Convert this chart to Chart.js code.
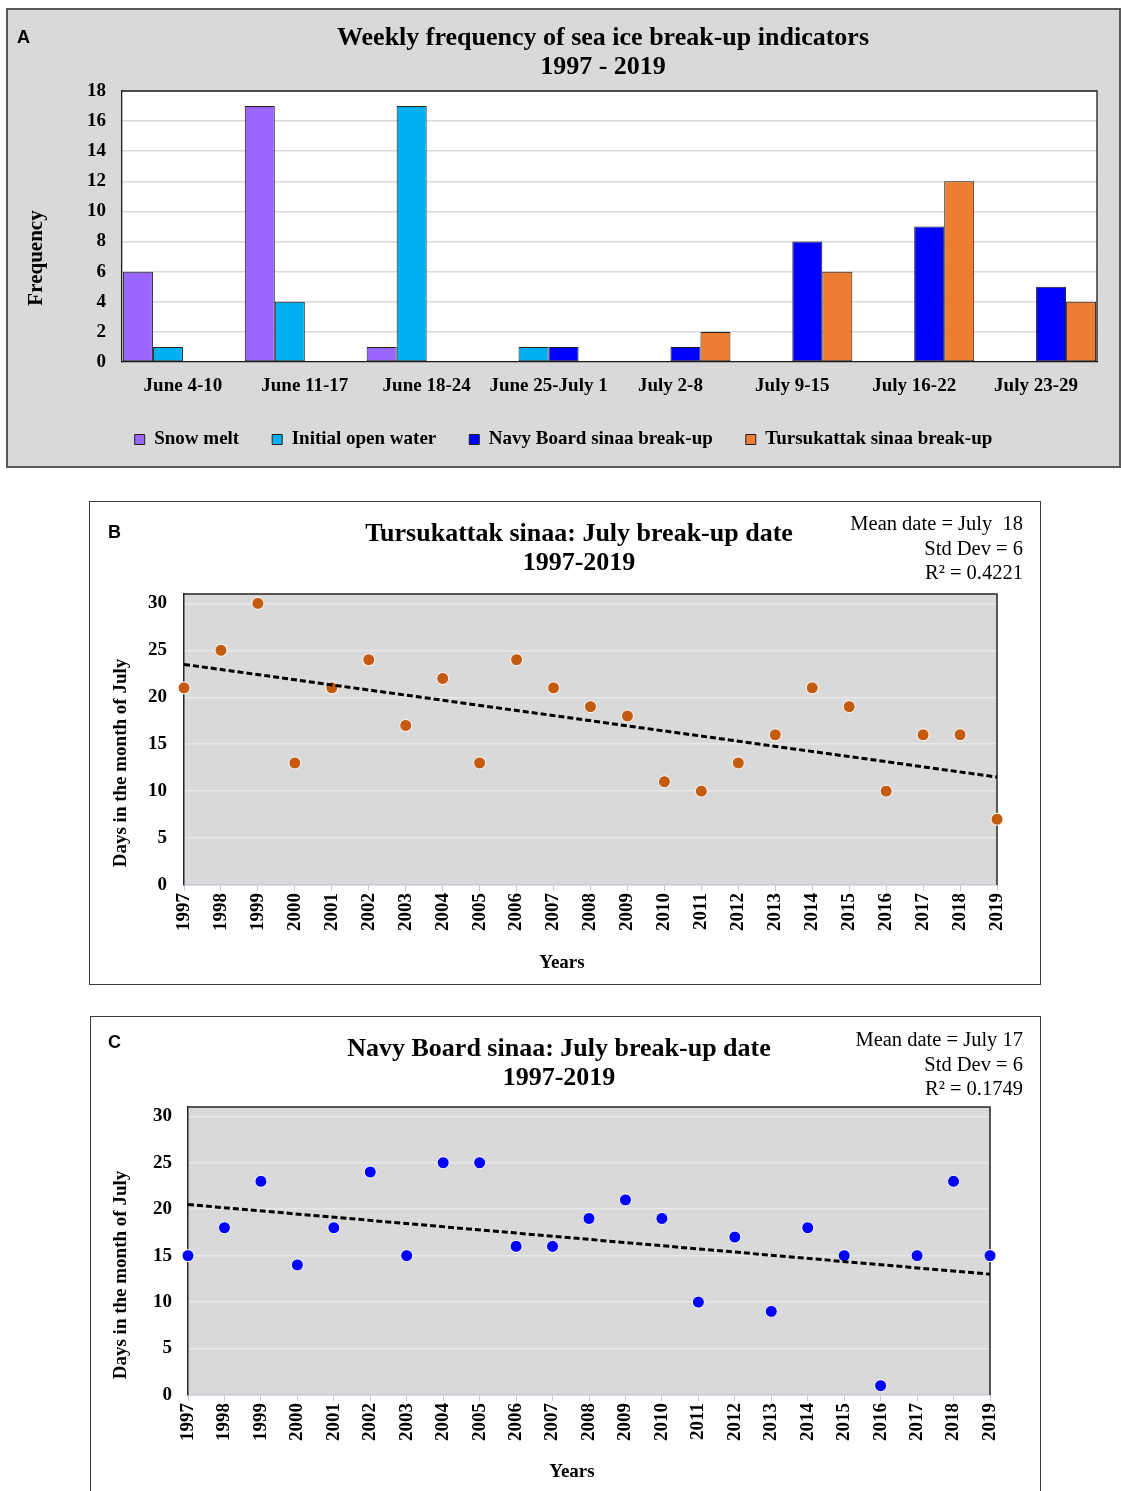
<!DOCTYPE html>
<html>
<head>
<meta charset="utf-8">
<title>Sea ice break-up indicators 1997-2019</title>
<script src="https://cdn.jsdelivr.net/npm/chart.js@4.4.1/dist/chart.umd.min.js"></script>
<style>
  html, body { margin: 0; padding: 0; background: #fff; }
  #page { position: relative; width: 1121px; height: 1491px; overflow: hidden; font-family: 'Liberation Serif', 'Times New Roman', serif; color: #000; }
  .box { position: absolute; box-sizing: border-box; }
  canvas.chart { position: absolute; left: 0; }
  .title { position: absolute; text-align: center; font-weight: bold; font-size: 26px; line-height: 29px; white-space: nowrap; }
  .stats { position: absolute; right: 98px; text-align: right; font-size: 20.5px; line-height: 24.5px; white-space: nowrap; }
  .letter { position: absolute; font-family: 'Liberation Sans', Arial, sans-serif; font-weight: bold; font-size: 18px; line-height: 20px; }
  .axt { position: absolute; font-weight: bold; font-size: 19px; line-height: 22px; white-space: nowrap; transform: translate(-50%, -50%); }
  .axt.rot { transform: translate(-50%, -50%) rotate(-90deg); }
</style>
</head>
<body>
<div id="page">
  <div class="box" style="left:6px;top:8px;width:1115px;height:460px;background:#d9d9d9;border:2px solid #595959"></div>
  <div class="box" style="left:89px;top:501px;width:952px;height:484px;background:#fff;border:1.5px solid #3a3a3a"></div>
  <div class="box" style="left:90px;top:1016px;width:951px;height:490px;background:#fff;border:1.5px solid #3a3a3a"></div>

  <canvas class="chart" id="chartA" width="1121" height="475" style="top:0"></canvas>
  <canvas class="chart" id="chartB" width="1121" height="500" style="top:490px"></canvas>
  <canvas class="chart" id="chartC" width="1121" height="486" style="top:1005px"></canvas>

  <div class="letter" style="left:17px;top:27px">A</div>
  <div class="title" style="left:303px;width:600px;top:22px">Weekly frequency of sea ice break-up indicators<br>1997 - 2019</div>
  <div class="axt rot" style="left:35px;top:258px;font-size:21px">Frequency</div>

  <div class="letter" style="left:108px;top:522px">B</div>
  <div class="title" style="left:329px;width:500px;top:518px">Tursukattak sinaa: July break-up date<br>1997-2019</div>
  <div class="stats" style="top:511px">Mean date = July&nbsp; 18<br>Std Dev = 6<br>R² = 0.4221</div>
  <div class="axt rot" style="left:120px;top:763px">Days in the month of July</div>
  <div class="axt" style="left:562px;top:962px">Years</div>

  <div class="letter" style="left:108px;top:1032px">C</div>
  <div class="title" style="left:309px;width:500px;top:1033px">Navy Board sinaa: July break-up date<br>1997-2019</div>
  <div class="stats" style="top:1027px">Mean date = July 17<br>Std Dev = 6<br>R² = 0.1749</div>
  <div class="axt rot" style="left:120px;top:1275px">Days in the month of July</div>
  <div class="axt" style="left:572px;top:1471px">Years</div>
</div>

<script>
// Panel A - weekly frequency
const weeks = ['June 4-10', 'June 11-17', 'June 18-24', 'June 25-July 1', 'July 2-8', 'July 9-15', 'July 16-22', 'July 23-29'];
const snowMelt   = [6, 17, 1, 0, 0, 0, 0, 0];
const openWater  = [1, 4, 17, 1, 0, 0, 0, 0];
const navyWeekly = [0, 0, 0, 1, 1, 8, 9, 5];
const tursWeekly = [0, 0, 0, 0, 2, 6, 12, 4];
const freqTicks  = [0, 18, 2];   // min, max, step

// Panels B and C - July break-up day per year
const years = [1997, 1998, 1999, 2000, 2001, 2002, 2003, 2004, 2005, 2006, 2007, 2008,
               2009, 2010, 2011, 2012, 2013, 2014, 2015, 2016, 2017, 2018, 2019];
const tursDays = [21, 25, 30, 13, 21, 24, 17, 22, 13, 24, 21, 19, 18, 11, 10, 13, 16, 21, 19, 10, 16, 16, 7];
const navyDays = [15, 18, 23, 14, 18, 24, 15, 25, 25, 16, 16, 19, 21, 19, 10, 17, 9, 18, 15, 1, 15, 23, 15];
const trendYears = [1997, 2019];
const tursTrend  = [23.5, 11.5];
const navyTrend  = [20.5, 13];
const dayTicks   = [0, 5, 10, 15, 20, 25, 30];
const dayMax     = 31;

Chart.defaults.font.family = "'Liberation Serif', 'Times New Roman', serif";
Chart.defaults.color = '#000';

// plot background + top/right edges of the plot frame
const framePlugin = {
  id: 'frame',
  beforeDraw(chart, args, opts) {
    const { ctx, chartArea: a } = chart;
    ctx.save();
    ctx.fillStyle = opts.bg;
    ctx.fillRect(a.left, a.top, a.right - a.left, a.bottom - a.top);
    ctx.restore();
  },
  beforeDatasetsDraw(chart, args, opts) {
    const { ctx, chartArea: a } = chart;
    ctx.save();
    ctx.strokeStyle = opts.color;
    ctx.lineWidth = opts.width;
    ctx.beginPath();
    ctx.moveTo(a.left, a.top);
    ctx.lineTo(a.right, a.top);
    ctx.lineTo(a.right, a.bottom);
    ctx.stroke();
    ctx.restore();
  }
};

const bold = size => ({ size: size, weight: 'bold' });

function barSet(label, data, color) {
  return {
    label, data,
    backgroundColor: color,
    borderColor: '#1f1f1f',
    borderWidth: 1,
    borderSkipped: false,
    categoryPercentage: 0.985,
    barPercentage: 1
  };
}

new Chart(document.getElementById('chartA'), {
  type: 'bar',
  data: {
    labels: weeks,
    datasets: [
      barSet('Snow melt', snowMelt, '#9966ff'),
      barSet('Initial open water', openWater, '#00b0f0'),
      barSet('Navy Board sinaa break-up', navyWeekly, '#0000ff'),
      barSet('Tursukattak sinaa break-up', tursWeekly, '#ed7d31')
    ]
  },
  options: {
    responsive: false,
    animation: false,
    layout: { padding: { top: 91, right: 24, bottom: 16, left: 30 } },
    plugins: {
      frame: { bg: '#ffffff', color: '#1a1a1a', width: 1.3 },
      tooltip: { enabled: false },
      legend: {
        position: 'bottom',
        labels: { boxWidth: 10, boxHeight: 10, padding: 33, color: '#000', font: bold(19) }
      }
    },
    scales: {
      x: {
        grid: { drawOnChartArea: false, drawTicks: false },
        border: { color: '#1a1a1a', width: 1.3 },
        ticks: { padding: 13, maxRotation: 0, font: bold(19) },
        afterFit: s => { s.height = 35; }
      },
      y: {
        min: freqTicks[0], max: freqTicks[1],
        ticks: { stepSize: freqTicks[2], padding: 16, font: bold(19) },
        grid: { color: '#d9d9d9', lineWidth: 1.5, drawTicks: false },
        border: { color: '#1a1a1a', width: 1.3 },
        afterFit: s => { s.width = 92; }
      }
    }
  },
  plugins: [framePlugin]
});

function dayChart(id, days, trend, color, pad, yWidth, xHeight, tickPad) {
  new Chart(document.getElementById(id), {
    type: 'scatter',
    data: {
      datasets: [
        {
          label: 'trend',
          data: trendYears.map((yr, i) => ({ x: yr, y: trend[i] })),
          showLine: true,
          borderColor: '#000',
          borderWidth: 3,
          borderDash: [6, 3],
          pointRadius: 0,
          clip: false
        },
        {
          label: 'break-up day',
          data: years.map((yr, i) => ({ x: yr, y: days[i] })),
          backgroundColor: color,
          borderColor: '#ffffff',
          borderWidth: 1,
          pointRadius: 6,
          clip: false
        }
      ]
    },
    options: {
      responsive: false,
      animation: false,
      layout: { padding: pad },
      plugins: {
        frame: { bg: '#d9d9d9', color: '#262626', width: 1.5 },
        legend: { display: false },
        tooltip: { enabled: false }
      },
      scales: {
        x: {
          type: 'linear',
          min: years[0], max: years[years.length - 1],
          ticks: {
            stepSize: 1, autoSkip: false, minRotation: 90, maxRotation: 90, padding: 2,
            callback: v => String(v), font: bold(19)
          },
          grid: { drawOnChartArea: false, tickLength: 6, color: '#c3cad3' },
          border: { color: '#c3cad3', width: 1.5 },
          afterFit: s => { s.height = xHeight; }
        },
        y: {
          min: dayTicks[0], max: dayMax,
          afterBuildTicks: s => { s.ticks = dayTicks.map(v => ({ value: v })); },
          ticks: { padding: tickPad, font: bold(19) },
          grid: { color: '#e8e8e8', lineWidth: 1.5, drawTicks: false },
          border: { color: '#262626', width: 1.5 },
          afterFit: s => { s.width = yWidth; }
        }
      }
    },
    plugins: [framePlugin]
  });
}

dayChart('chartB', tursDays, tursTrend, '#c55a11', { top: 104, right: 124, bottom: 15, left: 95 }, 89, 90, 17);
dayChart('chartC', navyDays, navyTrend, '#0000ff', { top: 102, right: 131, bottom: 7, left: 95 }, 93, 89, 16);
</script>
</body>
</html>
